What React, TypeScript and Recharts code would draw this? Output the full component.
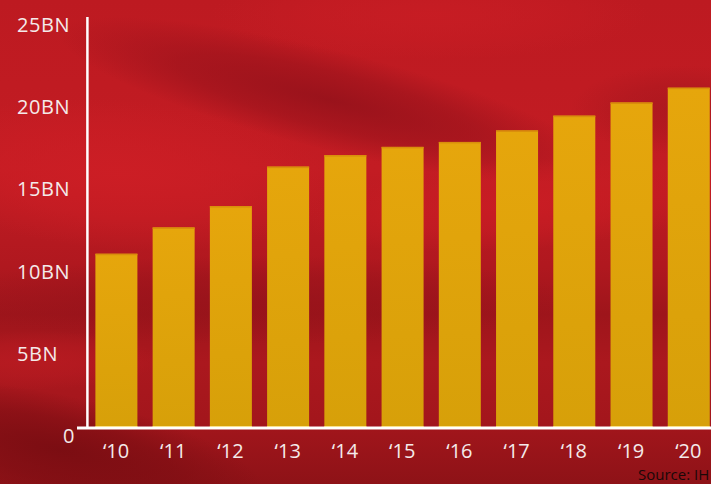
import React from "react";
import { BarChart, Bar, XAxis, YAxis, ReferenceLine } from "recharts";

const years = ["‘10", "‘11", "‘12", "‘13", "‘14", "‘15", "‘16", "‘17", "‘18", "‘19", "‘20"];
const values = [10.6, 12.2, 13.5, 15.9, 16.6, 17.1, 17.4, 18.1, 19.0, 19.8, 20.7];
const yTicks = [0, 5, 10, 15, 20, 25];
const yTickLabels = ["0", "5BN", "10BN", "15BN", "20BN", "25BN"];
const sourceText = "Source: IH";

const data = years.map((year, i) => ({ year, value: values[i] }));

const FONT = "'Open Sans', 'DejaVu Sans', sans-serif";

const YTick = (props: any) => {
  const { y, payload } = props;
  const idx = yTicks.indexOf(payload.value);
  const label = yTickLabels[idx] ?? String(payload.value);
  const isZero = payload.value === 0;
  return (
    <text
      x={isZero ? 63 : 17}
      y={y + 15}
      fill="#f4eaea"
      fontSize={20}
      letterSpacing={0.6}
      fontFamily={FONT}
      textAnchor="start"
    >
      {label}
    </text>
  );
};

const XTick = (props: any) => {
  const { x, payload } = props;
  return (
    <text x={x} y={458} fill="#f4eaea" fontSize={20} fontFamily={FONT} textAnchor="middle">
      {payload.value}
    </text>
  );
};

const BarShape = (props: any) => {
  const { x, y, width, height } = props;
  return (
    <g>
      <rect x={x} y={y} width={width} height={height} fill="url(#barGrad)" />
      <rect x={x} y={y} width={width} height={1.5} fill="#d98e0c" />
      <rect x={x} y={y + height - 2} width={width} height={2} fill="#f2c21a" />
    </g>
  );
};

const blobs = [
  { id: "b1", cx: 330, cy: 100, rx: 280, ry: 50, rot: 14, color: "#93111a", op: 0.85 },
  { id: "b2", cx: 120, cy: 175, rx: 220, ry: 75, rot: 4, color: "#cd1e25", op: 0.9 },
  { id: "b3", cx: 520, cy: 205, rx: 220, ry: 45, rot: -4, color: "#cb1d24", op: 0.85 },
  { id: "b4", cx: 430, cy: 15, rx: 220, ry: 45, rot: 0, color: "#c91d24", op: 0.8 },
  { id: "b5", cx: 60, cy: 450, rx: 210, ry: 55, rot: 12, color: "#7a0d12", op: 0.95 },
  { id: "b6", cx: 260, cy: 300, rx: 320, ry: 45, rot: 0, color: "#92121a", op: 0.6 },
  { id: "b7", cx: 30, cy: 360, rx: 130, ry: 30, rot: 0, color: "#bc1b22", op: 0.7 },
  { id: "b8", cx: 680, cy: 110, rx: 110, ry: 45, rot: 0, color: "#a0151c", op: 0.6 },
];

export default function App() {
  return (
    <div
      style={{
        position: "absolute",
        left: 0,
        top: 0,
        width: 711,
        height: 484,
        overflow: "hidden",
      }}
    >
      <svg width={711} height={484} style={{ position: "absolute", left: 0, top: 0 }}>
        <defs>
          <linearGradient id="bgBase" x1="0" y1="0" x2="0" y2="1">
            <stop offset="0" stopColor="#bd1a21" />
            <stop offset="0.35" stopColor="#c31c23" />
            <stop offset="0.55" stopColor="#b0181f" />
            <stop offset="0.65" stopColor="#9e151b" />
            <stop offset="0.75" stopColor="#ab181e" />
            <stop offset="0.87" stopColor="#a3161c" />
            <stop offset="1" stopColor="#8e1217" />
          </linearGradient>
          {blobs.map((b) => (
            <radialGradient key={b.id} id={b.id}>
              <stop offset="0" stopColor={b.color} stopOpacity={b.op} />
              <stop offset="0.55" stopColor={b.color} stopOpacity={b.op * 0.6} />
              <stop offset="1" stopColor={b.color} stopOpacity={0} />
            </radialGradient>
          ))}
        </defs>
        <rect x={0} y={0} width={711} height={484} fill="url(#bgBase)" />
        {blobs.map((b) => (
          <ellipse
            key={b.id}
            cx={b.cx}
            cy={b.cy}
            rx={b.rx}
            ry={b.ry}
            fill={`url(#${b.id})`}
            transform={`rotate(${b.rot} ${b.cx} ${b.cy})`}
          />
        ))}
      </svg>
      <div style={{ position: "absolute", left: 0, top: 0 }}>
        <BarChart
          width={717}
          height={484}
          data={data}
          margin={{ top: 17, right: 0, bottom: 16, left: 0 }}
          barSize={42}
        >
          <defs>
            <linearGradient id="barGrad" x1="0" y1="0" x2="0" y2="1">
              <stop offset="0" stopColor="#e6a60c" />
              <stop offset="1" stopColor="#d7a009" />
            </linearGradient>
          </defs>
          <XAxis
            dataKey="year"
            height={40}
            padding={{ left: 10.4, right: 0 }}
            axisLine={{ stroke: "#ffffff", strokeWidth: 3 }}
            tickLine={false}
            tick={<XTick />}
            interval={0}
          />
          <YAxis
            width={77}
            domain={[0, 25]}
            ticks={yTicks}
            axisLine={false}
            tickLine={false}
            tick={<YTick />}
            interval={0}
          />
          <Bar dataKey="value" isAnimationActive={false} shape={<BarShape />} />
          <ReferenceLine x="‘10" position="start" stroke="#ffffff" strokeWidth={2.5} />
        </BarChart>
      </div>
      <div
        style={{
          position: "absolute",
          left: 638,
          top: 464,
          fontFamily: FONT,
          fontSize: 15,
          color: "#1a0808",
          whiteSpace: "nowrap",
        }}
      >
        {sourceText}
      </div>
    </div>
  );
}
